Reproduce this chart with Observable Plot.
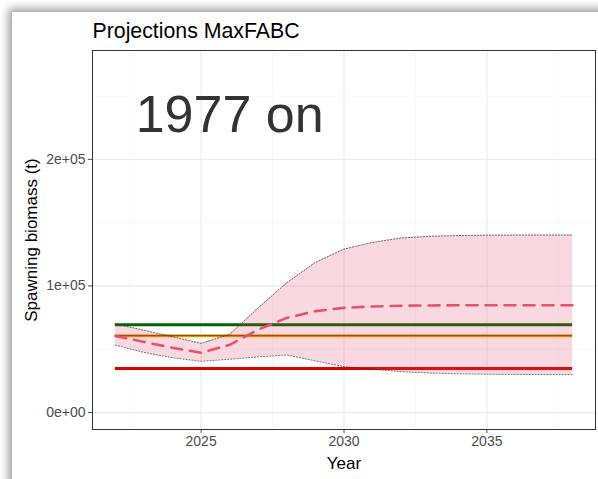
<!DOCTYPE html>
<html>
<head>
<meta charset="utf-8">
<script src="https://cdn.jsdelivr.net/npm/d3@7"></script>
<script src="https://cdn.jsdelivr.net/npm/@observablehq/plot@0.6"></script>
<style>
  html, body { margin: 0; padding: 0; width: 598px; height: 479px; overflow: hidden; background: #fff; }
  #card { position: absolute; left: 12px; top: 12px; width: 700px; height: 600px; background: #fff;
          box-shadow: 0 0 9px 3px rgba(0,0,0,0.42); }
  #chart { position: absolute; left: 0; top: 0; }
</style>
</head>
<body>
<div id="card"></div>
<div id="chart"></div>
<script>
// ---- data ----
const titleText = "Projections MaxFABC";
const annotation = "1977 on";
const xLabel = "Year";
const yLabel = "Spawning biomass (t)";

const years  = [2022, 2023, 2024, 2025, 2026, 2027, 2028, 2029, 2030, 2031, 2032, 2033, 2034, 2035, 2036, 2037, 2038];
const median = [60500, 55800, 51200, 47200, 53500, 65500, 74800, 80100, 82700, 83800, 84400, 84600, 84700, 84800, 84800, 84800, 84800];
const upper  = [70000, 65000, 59900, 54600, 61800, 82700, 102600, 118600, 129100, 134400, 137900, 139200, 139800, 140100, 140200, 140200, 140200];
const lower  = [53200, 47500, 43300, 40500, 42100, 44000, 45500, 40800, 36300, 34200, 32300, 31200, 30600, 30300, 30100, 30000, 29900];

const refNames  = ["B40", "B35", "B20"];
const refValues = [69400, 60700, 34700];
const refColors = ["#006400", "#FFA500", "#E00000"];

const xTicks = [2025, 2030, 2035];
const xMinor = [2022.5, 2027.5, 2032.5, 2037.5];
const yTicks = [0, 100000, 200000];
const yTickLabels = ["0e+00", "1e+05", "2e+05"];
const yMinor = [50000, 150000, 250000];
const annX = 2026, annY = 235000;

// ---- build tables ----
const series = years.map((year, i) => ({year, median: median[i], upper: upper[i], lower: lower[i]}));
const refs = refValues.map((v, i) => ({name: refNames[i], value: v, color: refColors[i], x1: years[0], x2: years[years.length - 1]}));

const font = "'Liberation Sans', Arial, Helvetica, sans-serif";

const chart = Plot.plot({
  width: 598,
  height: 479,
  marginLeft: 92,
  marginRight: 3,
  marginTop: 50,
  marginBottom: 50,
  style: {background: "transparent", fontFamily: font, fontSize: "14px", color: "#4d4d4d"},
  x: {domain: [2021.2, 2038.8], ticks: xTicks, tickFormat: d => String(d), tickSize: 4, tickPadding: 3, label: null},
  y: {domain: [-13400, 286000], ticks: yTicks, tickFormat: d => yTickLabels[yTicks.indexOf(d)], tickSize: 4, tickPadding: 3, label: null},
  marks: [
    Plot.ruleY(yMinor, {stroke: "#F3F3F3", strokeWidth: 0.7}),
    Plot.ruleX(xMinor, {stroke: "#F3F3F3", strokeWidth: 0.7}),
    Plot.ruleY(yTicks, {stroke: "#EBEBEB", strokeWidth: 1.2}),
    Plot.ruleX(xTicks, {stroke: "#EBEBEB", strokeWidth: 1.2}),
    Plot.ruleY(refs, {y: "value", x1: "x1", x2: "x2", stroke: "color", strokeWidth: 3}),
    Plot.ruleY([refs[1]], {y: "value", x1: "x1", x2: "x2", stroke: "#222", strokeWidth: 0.9, strokeOpacity: 0.8}),
    Plot.areaY(series, {x: "year", y1: "lower", y2: "upper", fill: "#e1435e", fillOpacity: 0.2}),
    Plot.line(series, {x: "year", y: "upper", stroke: "#333", strokeWidth: 0.7, strokeDasharray: "1.2,1.8"}),
    Plot.line(series, {x: "year", y: "lower", stroke: "#333", strokeWidth: 0.7, strokeDasharray: "1.2,1.8"}),
    Plot.line(series, {x: "year", y: "median", stroke: "#E4536D", strokeWidth: 2.6, strokeDasharray: "11,8"}),
    Plot.text([annotation], {x: annX, y: annY, text: d => d, fontSize: 52, fill: "#333", textAnchor: "middle"}),
    Plot.frame({stroke: "#333", strokeWidth: 1}),
    Plot.text([titleText], {frameAnchor: "top-left", dy: -13, text: d => d, fontSize: 21.3, fill: "#000", textAnchor: "start", lineAnchor: "bottom"}),
    Plot.text([xLabel], {frameAnchor: "bottom", dy: 39, text: d => d, fontSize: 17, fill: "#000", lineAnchor: "bottom"}),
    Plot.text([yLabel], {frameAnchor: "left", dx: -61, rotate: -90, text: d => d, fontSize: 17, fill: "#000", textAnchor: "middle"})
  ]
});
document.getElementById("chart").appendChild(chart);
</script>
</body>
</html>
